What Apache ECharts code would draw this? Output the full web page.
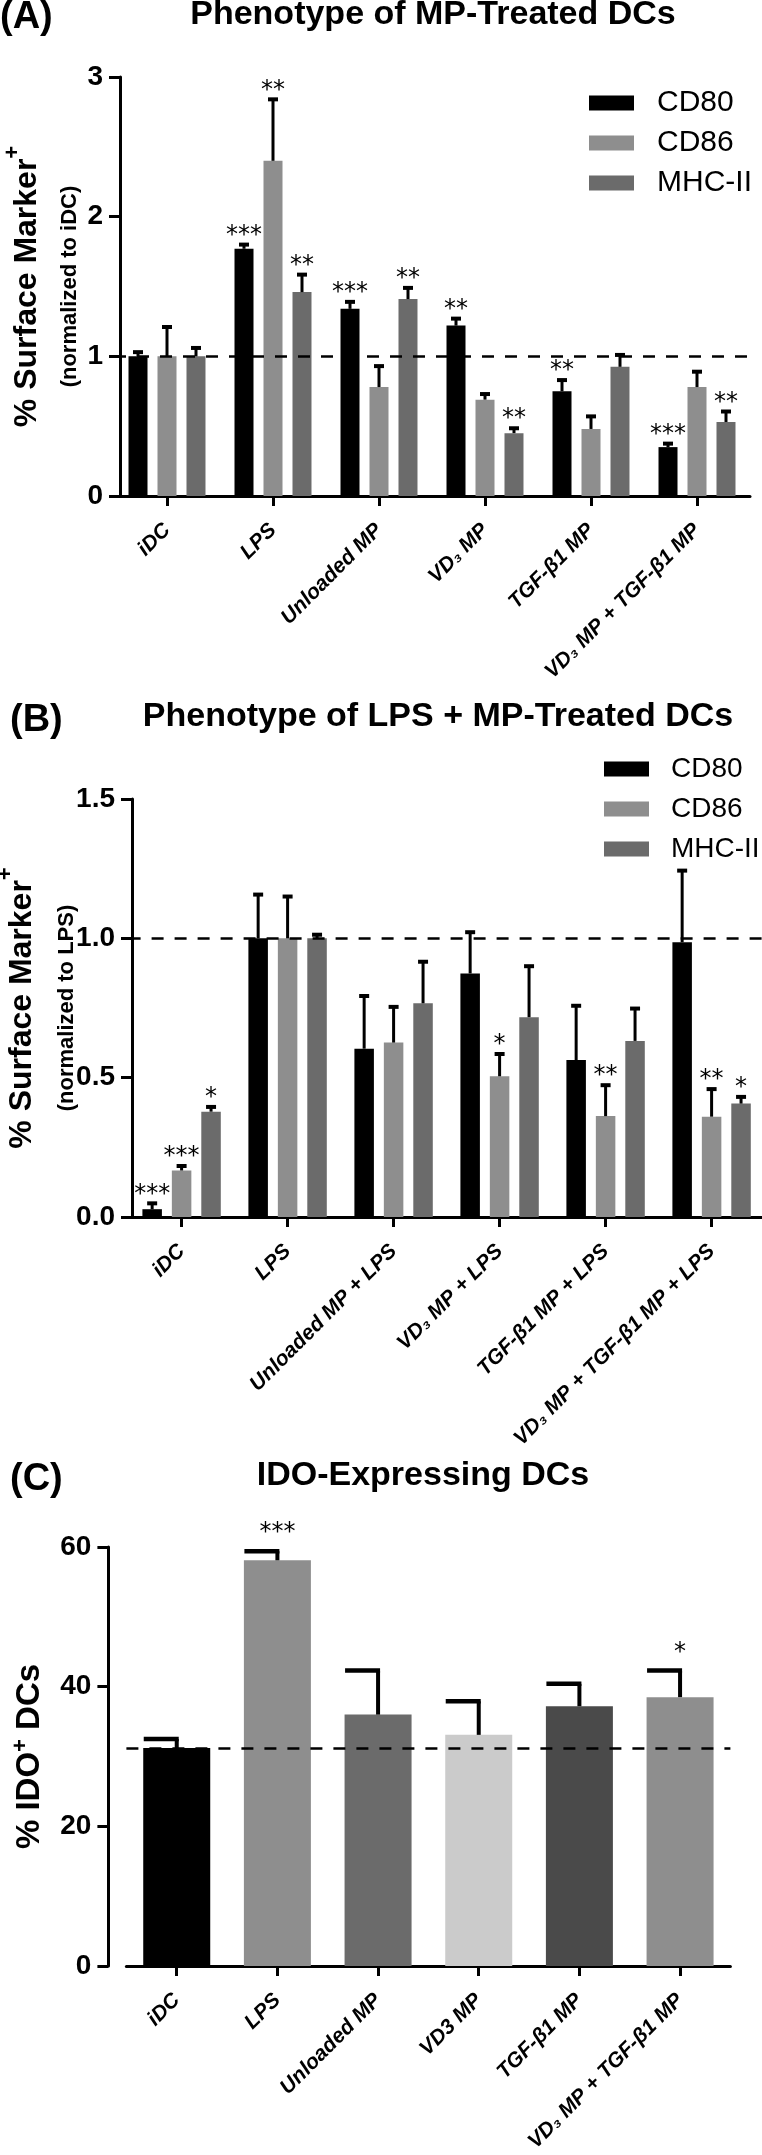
<!DOCTYPE html>
<html>
<head>
<meta charset="utf-8">
<script src="https://cdn.jsdelivr.net/npm/echarts@6/dist/echarts.min.js"></script>
<style>
html,body{margin:0;padding:0;background:#fff;}
#chart{width:762px;height:2155px;}
</style>
</head>
<body>
<div id="chart"></div>
<script>
// ---------------- DATA ----------------
const seriesNames = ['CD80', 'CD86', 'MHC-II'];

// Panel A: Phenotype of MP-Treated DCs (normalized to iDC)
const categoriesA = ['iDC', 'LPS', 'Unloaded MP', 'VD₃ MP', 'TGF-β1 MP', 'VD₃ MP + TGF-β1 MP'];
const cd80A      = [1.00, 1.77, 1.34, 1.22, 0.75, 0.35];
const cd80ErrA   = [0.03, 0.03, 0.05, 0.05, 0.08, 0.025];
const cd80StarsA = ['', '***', '***', '**', '**', '***'];
const cd86A      = [1.00, 2.40, 0.78, 0.69, 0.48, 0.78];
const cd86ErrA   = [0.21, 0.44, 0.15, 0.04, 0.09, 0.11];
const cd86StarsA = ['', '**', '', '', '', ''];
const mhcA       = [1.00, 1.46, 1.41, 0.45, 0.925, 0.53];
const mhcErrA    = [0.06, 0.125, 0.08, 0.035, 0.085, 0.075];
const mhcStarsA  = ['', '**', '**', '**', '', '**'];
const refLineA   = 1;

// Panel B: Phenotype of LPS + MP-Treated DCs (normalized to LPS)
const categoriesB = ['iDC', 'LPS', 'Unloaded MP + LPS', 'VD₃ MP + LPS', 'TGF-β1 MP + LPS', 'VD₃ MP + TGF-β1 MP + LPS'];
const cd80B      = [0.028, 1.00, 0.604, 0.874, 0.563, 0.986];
const cd80ErrB   = [0.021, 0.157, 0.189, 0.148, 0.195, 0.257];
const cd80StarsB = ['***', '', '', '', '', ''];
const cd86B      = [0.167, 1.00, 0.626, 0.505, 0.362, 0.36];
const cd86ErrB   = [0.016, 0.15, 0.128, 0.08, 0.111, 0.099];
const cd86StarsB = ['***', '', '', '*', '**', '**'];
const mhcB       = [0.378, 1.00, 0.767, 0.717, 0.632, 0.407];
const mhcErrB    = [0.017, 0.013, 0.149, 0.183, 0.116, 0.024];
const mhcStarsB  = ['*', '', '', '', '', '*'];
const refLineB   = 1;

// Panel C: IDO-Expressing DCs
const categoriesC = ['iDC', 'LPS', 'Unloaded MP', 'VD3 MP', 'TGF-β1 MP', 'VD₃ MP + TGF-β1 MP'];
const idoC       = [31.2, 58.1, 36.0, 33.1, 37.2, 38.5];
const idoErrC    = [1.3, 1.3, 6.3, 4.8, 3.2, 3.8];
const idoStarsC  = ['', '***', '', '', '', '*'];
const refLineC   = 31.2;

// ---------------- STYLE ----------------
const FONT = '"Liberation Sans", Arial, Helvetica, sans-serif';
const seriesColors = ['#000000', '#8e8e8e', '#6b6b6b'];
const colorsC = ['#000000', '#8e8e8e', '#6b6b6b', '#cbcbcb', '#4a4a4a', '#8e8e8e'];

function xAxisCfg(gi, cats, margin) {
  return {
    type: 'category', gridIndex: gi, data: cats,
    axisLine: {show: true, lineStyle: {color: '#000', width: 3}},
    axisTick: {show: true, alignWithLabel: true, length: 10, lineStyle: {color: '#000', width: 3}},
    axisLabel: {rotate: 45, margin: margin, interval: 0, color: '#000', fontSize: 21,
      fontWeight: 'bold', fontStyle: 'italic', fontFamily: FONT, hideOverlap: false},
    splitLine: {show: false}
  };
}

function yAxisCfg(gi, max, interval, offset, name, nameGap, rich, fmt) {
  return {
    type: 'value', gridIndex: gi, min: 0, max: max, interval: interval, offset: offset,
    axisLine: {show: true, lineStyle: {color: '#000', width: 3}},
    axisTick: {show: true, length: 11, lineStyle: {color: '#000', width: 3}},
    axisLabel: {color: '#000', fontSize: 28, fontWeight: 'bold', fontFamily: FONT, margin: 17, formatter: fmt},
    splitLine: {show: false},
    name: name, nameLocation: 'middle', nameRotate: 90, nameGap: nameGap, nameMoveOverlap: false,
    nameTextStyle: {color: '#000', fontFamily: FONT, rich: rich}
  };
}

function barSeries(gi, name, data, color, width, gap) {
  return {type: 'bar', name: name, xAxisIndex: gi, yAxisIndex: gi, data: data,
    barWidth: width, barGap: gap, itemStyle: {color: color}, z: 2, silent: true};
}

function errSeries(gi, means, errs, stars, shift, cfg) {
  return {
    type: 'custom', xAxisIndex: gi, yAxisIndex: gi, z: 4, silent: true,
    data: means.map((m, i) => [i, m, errs[i]]),
    renderItem: function (params, api) {
      const i = api.value(0), m = api.value(1), e = api.value(2);
      const p0 = api.coord([i, m]);
      const p1 = api.coord([i, m + e]);
      const x = p0[0] + shift;
      const children = [
        {type: 'line', shape: {x1: x, y1: p0[1], x2: x, y2: p1[1]},
          style: {stroke: '#000', lineWidth: cfg.stemW}},
        {type: 'line', shape: {x1: x - cfg.capL, y1: p1[1], x2: x + cfg.capR, y2: p1[1]},
          style: {stroke: '#000', lineWidth: cfg.capW}}
      ];
      const s = stars[params.dataIndex];
      if (s) {
        children.push({type: 'text', x: x + cfg.starDx, y: p1[1] - cfg.starGap,
          style: {text: s, fill: '#000', font: '24px "DejaVu Sans", sans-serif',
            align: 'center', verticalAlign: 'bottom', textAlign: 'center', textVerticalAlign: 'bottom'}});
      }
      return {type: 'group', children: children};
    }
  };
}

function refLine(gi, value) {
  return {type: 'line', xAxisIndex: gi, yAxisIndex: gi, data: [], z: 10, silent: true,
    markLine: {symbol: 'none', silent: true, animation: false, label: {show: false},
      lineStyle: {type: [12, 11], color: '#000', width: 2.5},
      data: [{yAxis: value}]}};
}

function gtext(x, y, text, size, align) {
  return {type: 'text', x: x, y: y, silent: true,
    style: {text: text, fill: '#000', font: 'bold ' + size + 'px ' + FONT,
      align: align, verticalAlign: 'middle', textAlign: align, textVerticalAlign: 'middle'}};
}

function legendCfg(left, top, fontSize, padLeft) {
  return {
    orient: 'vertical', icon: 'rect', itemWidth: 45, itemHeight: 15, itemGap: 10, padding: 0,
    data: seriesNames, selectedMode: false, left: left, top: top,
    textStyle: {color: '#000', fontSize: fontSize, fontFamily: FONT, lineHeight: 30, padding: [0, 0, 0, padLeft]}
  };
}

const barW_A = 19, gap_A = '52.6%', step_A = 29;
const barW_B = 19.5, gap_B = '51%', step_B = 29.45;
const errCfgAB = {stemW: 3, capW: 4, capL: 5, capR: 5, starGap: -3, starDx: 0};
const errCfgC = {stemW: 4, capW: 4.5, capL: 33, capR: 2, starGap: 6, starDx: 0};

const fmt1 = v => v.toFixed(1);
const fmt0 = v => String(v);

const option = {
  animation: false,
  backgroundColor: '#ffffff',
  textStyle: {fontFamily: FONT},
  graphic: [
    gtext(0, 18, '(A)', 38, 'left'),
    gtext(433, 15, 'Phenotype of MP-Treated DCs', 34, 'center'),
    gtext(10, 721, '(B)', 38, 'left'),
    gtext(438, 717, 'Phenotype of LPS + MP-Treated DCs', 34, 'center'),
    gtext(10, 1480, '(C)', 38, 'left'),
    gtext(423, 1476, 'IDO-Expressing DCs', 34, 'center')
  ],
  legend: [
    legendCfg(589, 88, 30, 18),
    legendCfg(604, 754, 28, 17)
  ],
  grid: [
    {left: 114, top: 77, width: 636, height: 419, containLabel: false, outerBoundsMode: 'none'},
    {left: 128.6, top: 799, width: 636, height: 418, containLabel: false, outerBoundsMode: 'none'},
    {left: 126.4, top: 1547, width: 604, height: 419, containLabel: false, outerBoundsMode: 'none'}
  ],
  xAxis: [
    xAxisCfg(0, categoriesA, 31),
    xAxisCfg(1, categoriesB, 31),
    xAxisCfg(2, categoriesC, 31)
  ],
  yAxis: [
    yAxisCfg(0, 3, 1, -6, '{big|% Surface Marker}{sup|+}\n{small|(normalized to iDC)}', 32, {
      big: {fontSize: 32, fontWeight: 'bold', fontFamily: FONT, lineHeight: 50, color: '#000'},
      sup: {fontSize: 22, fontWeight: 'bold', fontFamily: FONT, verticalAlign: 'top', color: '#000'},
      small: {fontSize: 22, fontWeight: 'bold', fontFamily: FONT, lineHeight: 36, color: '#000'}
    }, fmt0),
    yAxisCfg(1, 1.5, 0.5, -3.4, '{big|% Surface Marker}{sup|+}\n{small|(normalized to LPS)}', 47, {
      big: {fontSize: 32, fontWeight: 'bold', fontFamily: FONT, lineHeight: 54, color: '#000'},
      sup: {fontSize: 22, fontWeight: 'bold', fontFamily: FONT, verticalAlign: 'top', color: '#000'},
      small: {fontSize: 22, fontWeight: 'bold', fontFamily: FONT, lineHeight: 36, color: '#000'}
    }, fmt1),
    yAxisCfg(2, 60, 20, 18, '{big|% IDO}{sup|+}{big| DCs}', 58, {
      big: {fontSize: 33, fontWeight: 'bold', fontFamily: FONT, lineHeight: 40, color: '#000'},
      sup: {fontSize: 22, fontWeight: 'bold', fontFamily: FONT, verticalAlign: 'top', color: '#000'}
    }, fmt0)
  ],
  series: [
    barSeries(0, seriesNames[0], cd80A, seriesColors[0], barW_A, gap_A),
    barSeries(0, seriesNames[1], cd86A, seriesColors[1], barW_A, gap_A),
    barSeries(0, seriesNames[2], mhcA, seriesColors[2], barW_A, gap_A),
    errSeries(0, cd80A, cd80ErrA, cd80StarsA, -step_A, errCfgAB),
    errSeries(0, cd86A, cd86ErrA, cd86StarsA, 0, errCfgAB),
    errSeries(0, mhcA, mhcErrA, mhcStarsA, step_A, errCfgAB),
    refLine(0, refLineA),

    barSeries(1, seriesNames[0], cd80B, seriesColors[0], barW_B, gap_B),
    barSeries(1, seriesNames[1], cd86B, seriesColors[1], barW_B, gap_B),
    barSeries(1, seriesNames[2], mhcB, seriesColors[2], barW_B, gap_B),
    errSeries(1, cd80B, cd80ErrB, cd80StarsB, -step_B, errCfgAB),
    errSeries(1, cd86B, cd86ErrB, cd86StarsB, 0, errCfgAB),
    errSeries(1, mhcB, mhcErrB, mhcStarsB, step_B, errCfgAB),
    refLine(1, refLineB),

    {type: 'bar', name: 'IDO', xAxisIndex: 2, yAxisIndex: 2, barWidth: 67, z: 2, silent: true,
      data: idoC.map((v, i) => ({value: v, itemStyle: {color: colorsC[i]}}))},
    errSeries(2, idoC, idoErrC, idoStarsC, 0, errCfgC),
    refLine(2, refLineC)
  ]
};

const chart = echarts.init(document.getElementById('chart'), null, {renderer: 'canvas', width: 762, height: 2155});
chart.setOption(option);
</script>
</body>
</html>
